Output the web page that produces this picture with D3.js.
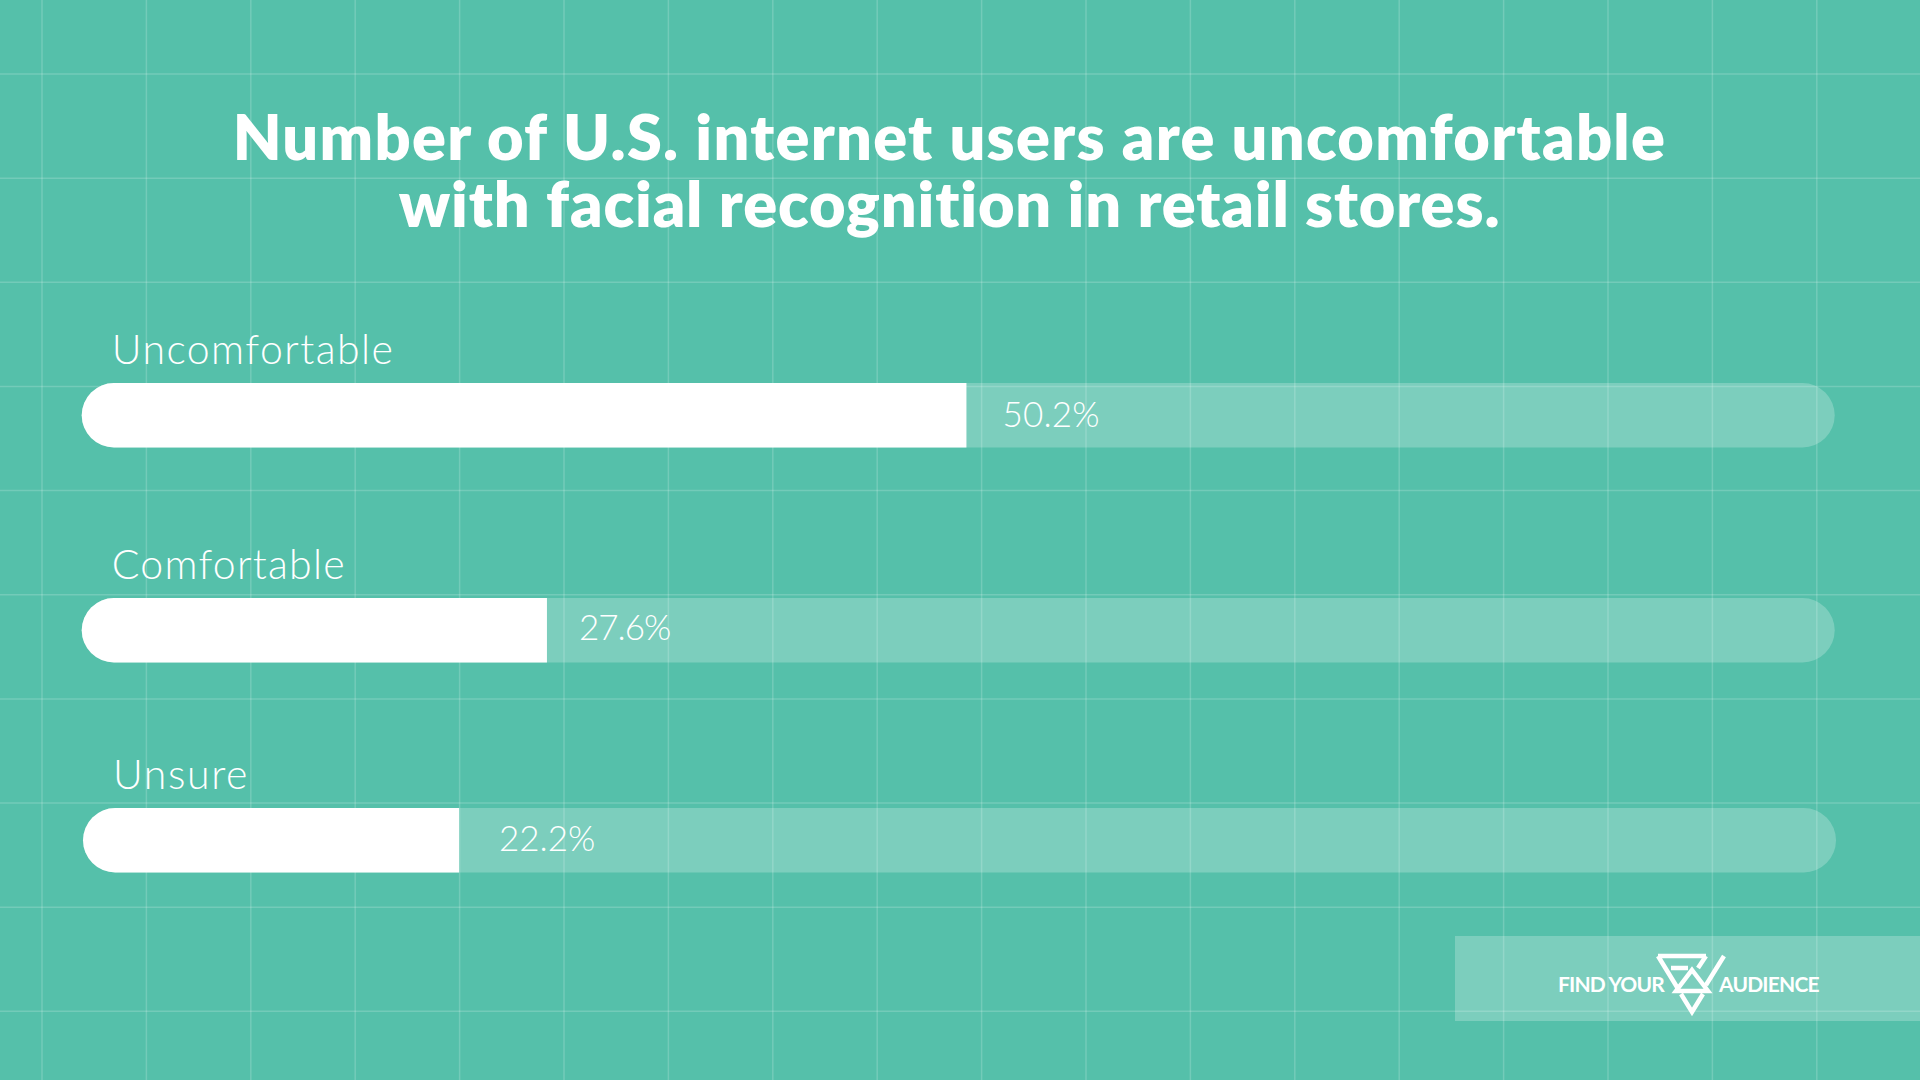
<!DOCTYPE html>
<html>
<head>
<meta charset="utf-8">
<script src="https://cdn.jsdelivr.net/npm/d3@7"></script>
<style>
	html, body { margin: 0; padding: 0; background: #55c0aa; }
	svg { display: block; }
	text { font-family: Lato, "Open Sans", sans-serif; fill: #fff; font-variant-ligatures: none; }
</style>
</head>
<body>
<svg id="chart" width="1920" height="1080"></svg>
<script>
const titleLines = ["Number of U.S. internet users are uncomfortable", "with facial recognition in retail stores."];
const categories = ["Uncomfortable", "Comfortable", "Unsure"];
const valueLabels = ["50.2%", "27.6%", "22.2%"];
// filled length of each bar as drawn in the picture, in % of the full track
const drawnLengths = [50.47, 26.54, 21.45];
const brandLeft = "FIND YOUR";
const brandRight = "AUDIENCE";

const width = 1920, height = 1080;
const svg = d3.select("#chart");

// background grid
const gridX = d3.range(42, width, 104.4);
const gridY = d3.range(74, height, 104.15);
svg.append("g").selectAll("line").data(gridX).join("line")
	.attr("x1", d => d).attr("x2", d => d).attr("y1", 0).attr("y2", height)
	.attr("stroke", "#fff").attr("stroke-opacity", 0.18).attr("stroke-width", 1.5);
svg.append("g").selectAll("line").data(gridY).join("line")
	.attr("x1", 0).attr("x2", width).attr("y1", d => d).attr("y2", d => d)
	.attr("stroke", "#fff").attr("stroke-opacity", 0.18).attr("stroke-width", 1.5);

// title
const titleSpacing = [1.3, 0.87];
svg.append("g").selectAll("text").data(titleLines).join("text")
	.attr("x", 949.5).attr("y", (d, i) => 160 + i * 67)
	.attr("text-anchor", "middle")
	.attr("font-size", 63).attr("font-weight", 800)
	.style("letter-spacing", (d, i) => titleSpacing[i] + "px")
	.text(d => d);

// bars
const x = d3.scaleLinear().domain([0, 100]).range([0, 1753]);
const rowY = [383, 598, 808];
const barH = 64.5;
const rows = svg.append("g").selectAll("g").data(categories).join("g")
	.attr("transform", (d, i) => `translate(${i == 2 ? 83 : 81.7},${rowY[i]})`);

rows.append("rect")
	.attr("width", x(100)).attr("height", barH).attr("rx", barH / 2)
	.attr("fill", "#fff").attr("fill-opacity", 0.23);

rows.append("path")
	.attr("fill", "#fff")
	.attr("d", (d, i) => {
		const w = x(drawnLengths[i]), r = barH / 2;
		return `M${w},0H${r}A${r},${r} 0 0 0 ${r},${barH}H${w}Z`;
	});

const catSpacing = [1.45, 1.25, 1.6];
rows.append("text")
	.attr("x", 30).attr("y", -19)
	.attr("font-size", 41).attr("font-weight", 300)
	.style("letter-spacing", (d, i) => catSpacing[i] + "px")
	.text(d => d);

const labelGap = [36, 32, 40];
const labelDy = [12, 9.5, 10.5];
const labelSpacing = [0.2, -1, 0];
rows.append("text")
	.attr("x", (d, i) => x(drawnLengths[i]) + labelGap[i])
	.attr("y", (d, i) => barH / 2 + labelDy[i])
	.attr("font-size", 35).attr("font-weight", 300)
	.style("letter-spacing", (d, i) => labelSpacing[i] + "px")
	.text((d, i) => valueLabels[i]);

// brand tag
const brand = svg.append("g");
brand.append("rect")
	.attr("x", 1455).attr("y", 936).attr("width", 465).attr("height", 85)
	.attr("fill", "#fff").attr("fill-opacity", 0.23);
brand.append("text").attr("x", 1664).attr("y", 992).attr("text-anchor", "end")
	.attr("font-size", 21).attr("font-weight", 700)
	.style("letter-spacing", "-0.8px").text(brandLeft);
brand.append("text").attr("x", 1719).attr("y", 992)
	.attr("font-size", 21).attr("font-weight", 700)
	.style("letter-spacing", "-0.8px").text(brandRight);
brand.append("path")
	.attr("fill", "none").attr("stroke", "#fff").attr("stroke-width", 4.5)
	.attr("d", "M1658,956H1706M1724,956L1706,985M1658,956L1680,992M1692,970L1708,991H1676ZM1671,968H1688M1706,956L1698,968M1681,994L1692,1012L1703,994");
</script>
</body>
</html>
